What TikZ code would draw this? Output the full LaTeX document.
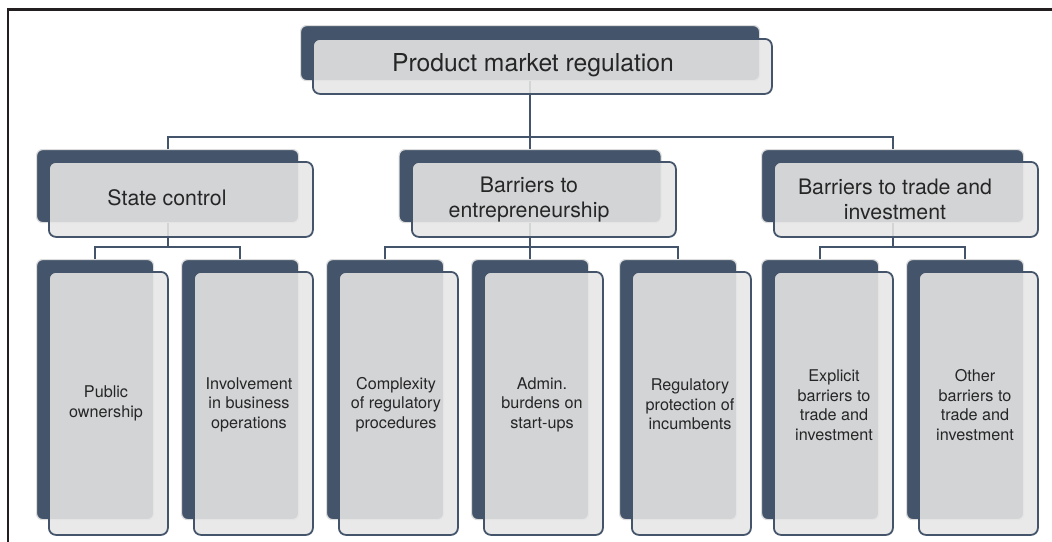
\documentclass[tikz,border=0pt]{standalone}
\usepackage{fontspec}
\setmainfont{TeX Gyre Heros}
\definecolor{dk}{HTML}{44546A}
\definecolor{lt}{HTML}{E7E6E6}
\definecolor{halo}{HTML}{DCDCDC}
\definecolor{txt}{HTML}{262626}
\definecolor{frame}{HTML}{231F20}
\tikzset{
  backbox/.style={draw=halo, line width=1.2pt, fill=dk, rounded corners=6pt, inner sep=0pt, anchor=north west},
  frontbox/.style={draw=dk, line width=1.8pt, fill=lt, fill opacity=0.88, rounded corners=7pt, inner sep=0pt, anchor=north west},
  conn/.style={draw=dk, line width=1.8pt},
  ttop/.style={text=txt, align=center, font=\fontsize{24.7}{29}\selectfont},
  tmid/.style={text=txt, align=center, font=\fontsize{21.3}{25.5}\selectfont},
  tlow/.style={text=txt, align=center, font=\fontsize{16.2}{19.5}\selectfont},
  topsz/.style={minimum width=459pt, minimum height=55pt},
  midsz/.style={minimum width=262pt, minimum height=73pt},
  midszf/.style={minimum width=264pt, minimum height=75pt},
  lowsz/.style={minimum width=117pt, minimum height=260pt},
  lowszf/.style={minimum width=119pt, minimum height=263pt}
}
\begin{document}
\begin{tikzpicture}[x=1pt,y=-1pt]
\useasboundingbox (0,0) rectangle (1052,541);
\fill[white] (0,0) rectangle (1052,541);
% frame
\draw[line width=2.8pt, color=frame, line join=miter] (8,545) -- (8,9.5) -- (1056,9.5);

% back boxes
\node[backbox, topsz] (topb) at (300,25) {};
\node[backbox, midsz] (scb) at (36,149) {};
\node[backbox, midsz] (beb) at (398.5,149) {};
\node[backbox, midsz] (trb) at (761,149) {};
\node[backbox, lowsz] (pob) at (36,259) {};
\node[backbox, lowsz] (ibb) at (181,259) {};
\node[backbox, lowsz] (crb) at (326,259) {};
\node[backbox, lowsz] (abb) at (471,259) {};
\node[backbox, lowsz] (rpb) at (619,259) {};
\node[backbox, lowsz] (ebb) at (761,259) {};
\node[backbox, lowsz] (obb) at (906,259) {};

% connectors
\coordinate (bus1) at (0,137);
\coordinate (bus2) at (0,247);
\draw[conn] (topb.south) -- (beb.north);
\draw[conn] (scb.north) |- (trb.north |- bus1) -- (trb.north);
\draw[conn] (scb.south) -- (scb.south |- bus2);
\draw[conn] (pob.north) |- (ibb.north |- bus2) -- (ibb.north);
\draw[conn] (beb.south) -- (beb.south |- bus2);
\draw[conn] (crb.north) |- (rpb.north |- bus2) -- (rpb.north);
\draw[conn] (abb.north) -- (abb.north |- bus2);
\draw[conn] (trb.south) -- (trb.south |- bus2);
\draw[conn] (ebb.north) |- (obb.north |- bus2) -- (obb.north);

% front boxes
\node[frontbox, topsz] (topf) at (312,38) {};
\node[frontbox, midszf] (scf) at (48,161) {};
\node[frontbox, midszf] (bef) at (411,161) {};
\node[frontbox, midszf] (trf) at (773,161) {};
\node[frontbox, lowszf] (pof) at (48,271) {};
\node[frontbox, lowszf] (ibf) at (193,271) {};
\node[frontbox, lowszf] (crf) at (338,271) {};
\node[frontbox, lowszf] (abf) at (483,271) {};
\node[frontbox, lowszf] (rpf) at (631,271) {};
\node[frontbox, lowszf] (ebf) at (773,271) {};
\node[frontbox, lowszf] (obf) at (918,271) {};

% texts
\node[ttop] (topt) at (533,65.5) {Product market regulation};
\node[tmid] (sct) at (167,198) {State control};
\node[tmid] (bet) at (529,199.5) {Barriers to\\entrepreneurship};
\node[tmid] (trt) at (895,199.5) {Barriers to trade and\\investment};
\node[tlow] (pot) at (106,403.5) {Public\\ownership};
\node[tlow] (ibt) at (249,404.5) {Involvement\\in business\\operations};
\node[tlow] (crt) at (396,404.5) {Complexity\\of regulatory\\procedures};
\node[tlow] (abt) at (542,404.5) {Admin.\\burdens on\\start-ups};
\node[tlow] (rpt) at (690,404.5) {Regulatory\\protection of\\incumbents};
\node[tlow] (ebt) at (834,405) {Explicit\\barriers to\\trade and\\investment};
\node[tlow] (obt) at (975,405) {Other\\barriers to\\trade and\\investment};
\end{tikzpicture}
\end{document}
